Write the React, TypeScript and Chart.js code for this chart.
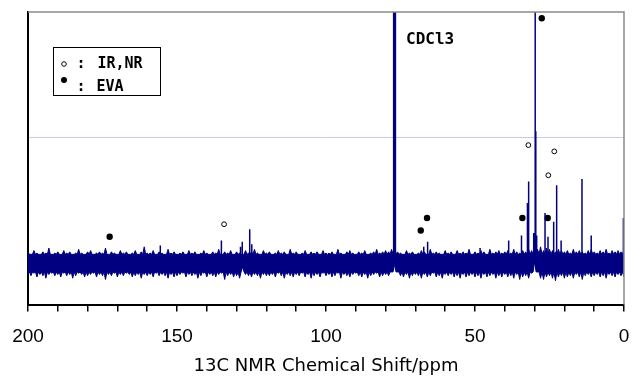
import React, { useEffect, useRef } from 'react';
import { Chart, registerables } from 'chart.js';

Chart.register(...registerables);

const NAVY = '#000080';

// chemical shift sample positions (ppm) of the noise spike tips
const noiseShifts = [
  200, 199, 198, 197, 196, 195, 194, 193, 192, 191,
  190, 189, 188, 187, 186, 185, 184, 183, 182, 181,
  180, 179, 178, 177, 176, 175, 174, 173, 172, 171,
  170, 169, 168, 167, 166, 165, 164, 163, 162, 161,
  160, 159, 158, 157, 156, 155, 154, 153, 152, 151,
  150, 149, 148, 147, 146, 145, 144, 143, 142, 141,
  140, 139, 138, 137, 136, 135, 134, 133, 132, 131,
  130, 129, 128, 127, 126, 125, 124, 123, 122, 121,
  120, 119, 118, 117, 116, 115, 114, 113, 112, 111,
  110, 109, 108, 107, 106, 105, 104, 103, 102, 101,
  100, 99, 98, 97, 96, 95, 94, 93, 92, 91,
  90, 89, 88, 87, 86, 85, 84, 83, 82, 81,
  80, 79, 78, 77, 76, 75, 74, 73, 72, 71,
  70, 69, 68, 67, 66, 65, 64, 63, 62, 61,
  60, 59, 58, 57, 56, 55, 54, 53, 52, 51,
  50, 49, 48, 47, 46, 45, 44, 43, 42, 41,
  40, 39, 38, 37, 36, 35, 34, 33, 32, 31,
  30, 29, 28, 27, 26, 25, 24, 23, 22, 21,
  20, 19, 18, 17, 16, 15, 14, 13, 12, 11,
  10, 9, 8, 7, 6, 5, 4, 3, 2, 1,
  0,
];

// upper spike tips of the noise band
const noiseUpper = [
  9, 7, 10, 8, 7, 9, 8, 12, 7, 8,
  9, 7, 10, 8, 9, 7, 8, 11, 8, 7,
  9, 10, 7, 8, 9, 8, 12, 7, 9, 8,
  7, 10, 8, 9, 7, 8, 10, 7, 9, 13,
  8, 8, 10, 7, 9, 8, 7, 11, 8, 9,
  7, 8, 9, 7, 10, 8, 9, 7, 8, 10,
  8, 7, 9, 8, 11, 7, 9, 8, 10, 7,
  9, 8, 7, 10, 8, 9, 11, 8, 7, 10,
  8, 9, 7, 8, 10, 8, 9, 7, 11, 8,
  9, 7, 8, 10, 7, 9, 8, 9, 7, 10,
  8, 8, 9, 7, 11, 8, 7, 9, 10, 8,
  7, 9, 8, 10, 7, 8, 9, 11, 8, 9,
  10, 9, 11, 10, 9, 8, 7, 10, 8, 9,
  7, 8, 10, 9, 7, 11, 8, 9, 8, 7,
  10, 8, 9, 7, 10, 8, 9, 8, 11, 7,
  9, 8, 10, 9, 7, 11, 8, 9, 10, 8,
  9, 10, 8, 11, 9, 8, 10, 9, 11, 10,
  12, 11, 13, 10, 12, 11, 10, 9, 11, 10,
  9, 10, 8, 11, 9, 10, 9, 8, 10, 11,
  9, 8, 10, 9, 11, 8, 10, 9, 10, 9,
  11,
];

// lower spike tips of the noise band
const noiseLower = [
  -9, -10, -8, -11, -9, -10, -12, -9, -8, -10,
  -9, -11, -8, -10, -9, -12, -10, -8, -9, -11,
  -10, -9, -8, -11, -9, -10, -13, -9, -10, -8,
  -11, -9, -10, -8, -9, -11, -10, -9, -12, -9,
  -10, -9, -11, -8, -10, -9, -10, -12, -9, -11,
  -10, -9, -8, -11, -9, -10, -9, -12, -10, -8,
  -11, -9, -10, -11, -9, -8, -13, -10, -9, -11,
  -10, -12, -3, -9, -10, -11, -9, -10, -12, -9,
  -10, -10, -9, -11, -8, -10, -12, -9, -10, -11,
  -9, -10, -8, -11, -9, -12, -10, -9, -11, -8,
  -10, -9, -11, -10, -8, -12, -9, -10, -11, -9,
  -8, -10, -11, -9, -12, -10, -9, -8, -11, -10,
  -9, -10, -7, -1, -7, -10, -11, -9, -12, -10,
  -9, -10, -12, -9, -11, -10, -8, -11, -10, -12,
  -9, -10, -9, -11, -10, -12, -9, -11, -10, -9,
  -11, -10, -12, -9, -11, -10, -9, -12, -10, -11,
  -9, -11, -10, -12, -9, -13, -11, -10, -12, -8,
  1, -7, -12, -13, -11, -10, -12, -14, -11, -10,
  -12, -11, -10, -12, -9, -11, -13, -10, -9, -11,
  -10, -9, -11, -10, -12, -9, -10, -11, -9, -10,
  -11,
];

// edge of the solid core of the noise band (between the spikes)
const noiseCore = 7;

// resolved resonances: shift (ppm) and intensity
const peakShifts = [
  155.6, 135.1, 128.7, 128.1, 125.6, 124.9, 77.3, 77.0, 76.7, 67.2,
  65.9, 48.3, 38.7, 34.4, 32.4, 32.0, 30.3, 29.8, 29.6, 29.3,
  26.5, 25.5, 23.6, 22.6, 21.1, 14.1, 11.0, 0.2,
];
const peakHeights = [
  14, 18, 13, 17, 27, 15, 260, 260, 260, 13,
  17, 12, 18, 22, 48, 65, 24, 260, 105, 22,
  40, 21, 33, 62, 18, 67, 22, 36,
];

// assignment markers
const irnrShifts = [134.2, 32.1, 23.4, 25.4];
const irnrLevels = [31, 94, 89, 70];
const evaShifts = [172.6, 68.2, 66.1, 34.1, 25.6, 27.6];
const evaLevels = [21, 26, 36, 36, 36, 195];

const xTickLabels = [200, 150, 100, 50, 0];

const decorPlugin = {
  id: 'decor',
  afterDraw(chart: any) {
    const { ctx, chartArea: a } = chart;
    ctx.save();
    // top and right frame
    ctx.strokeStyle = '#8a8a8a';
    ctx.lineWidth = 1.5;
    ctx.beginPath();
    ctx.moveTo(a.left, a.top);
    ctx.lineTo(a.right, a.top);
    ctx.lineTo(a.right, a.bottom);
    ctx.stroke();

    // legend box
    const bx = a.left + 25.5;
    const by = a.top + 35.5;
    ctx.strokeStyle = '#000';
    ctx.lineWidth = 1;
    ctx.strokeRect(bx, by, 107, 48);

    ctx.fillStyle = '#000';
    ctx.font = 'bold 15px "DejaVu Sans Mono", monospace';
    ctx.textBaseline = 'middle';
    // open marker
    ctx.beginPath();
    ctx.arc(bx + 10.5, by + 16.5, 2.3, 0, Math.PI * 2);
    ctx.fillStyle = '#fff';
    ctx.fill();
    ctx.strokeStyle = '#000';
    ctx.lineWidth = 1;
    ctx.stroke();
    // filled marker
    ctx.beginPath();
    ctx.arc(bx + 10.5, by + 32.5, 3, 0, Math.PI * 2);
    ctx.fillStyle = '#000';
    ctx.fill();

    ctx.textAlign = 'center';
    ctx.fillText(':', bx + 27.5, by + 17);
    ctx.fillText(':', bx + 27.5, by + 40);
    ctx.textAlign = 'left';
    ctx.fillText('IR,NR', bx + 44, by + 17);
    ctx.fillText('EVA', bx + 43, by + 40);

    // solvent label
    ctx.font = 'bold 16px "DejaVu Sans Mono", monospace';
    ctx.fillText('CDCl3', 406, a.top + 28);
    ctx.restore();
  },
};

function spikyEdge(tips: number[], core: number) {
  const pts: { x: number; y: number }[] = [];
  noiseShifts.forEach((x, i) => {
    pts.push({ x, y: tips[i] });
    if (i < noiseShifts.length - 1) {
      pts.push({ x: (x + noiseShifts[i + 1]) / 2, y: core });
    }
  });
  return pts;
}

export default function App() {
  const ref = useRef<HTMLCanvasElement | null>(null);

  useEffect(() => {
    if (!ref.current) return;
    const upper = spikyEdge(noiseUpper, noiseCore);
    const lower = spikyEdge(noiseLower, -noiseCore);
    const peaks = peakShifts.flatMap((x, i) => [
      { x, y: 0 },
      { x, y: peakHeights[i] },
      { x, y: null as any },
    ]);
    const irnr = irnrShifts.map((x, i) => ({ x, y: irnrLevels[i] }));
    const eva = evaShifts.map((x, i) => ({ x, y: evaLevels[i] }));

    const chart = new Chart(ref.current, {
      type: 'line',
      data: {
        datasets: [
          {
            data: upper,
            borderColor: NAVY,
            backgroundColor: NAVY,
            borderWidth: 1,
            pointRadius: 0,
            fill: '+1',
          },
          {
            data: lower,
            borderColor: NAVY,
            backgroundColor: NAVY,
            borderWidth: 1,
            pointRadius: 0,
            fill: false,
          },
          {
            data: peaks,
            borderColor: NAVY,
            borderWidth: 1.5,
            pointRadius: 0,
            fill: false,
            spanGaps: false,
          },
          {
            data: irnr,
            showLine: false,
            pointRadius: 2.4,
            pointBackgroundColor: '#fff',
            pointBorderColor: '#000',
            pointBorderWidth: 1,
          },
          {
            data: eva,
            showLine: false,
            pointRadius: 3.2,
            pointBackgroundColor: '#000',
            pointBorderColor: '#000',
            pointBorderWidth: 0,
          },
        ] as any,
      },
      options: {
        animation: false,
        responsive: false,
        events: [],
        layout: { padding: { left: 28, right: 13, top: 12, bottom: 0 } },
        plugins: {
          legend: { display: false },
          tooltip: { enabled: false },
        },
        scales: {
          x: {
            type: 'linear',
            reverse: true,
            min: 0,
            max: 200,
            z: 1,
            afterFit: (s: any) => {
              s.paddingLeft = 0;
              s.paddingRight = 0;
            },
            border: { display: true, color: '#000', width: 2 },
            grid: {
              drawOnChartArea: false,
              drawTicks: true,
              tickLength: 7,
              color: '#000',
              lineWidth: 1.5,
            },
            ticks: {
              stepSize: 10,
              autoSkip: false,
              maxRotation: 0,
              padding: 13.6,
              color: '#000',
              font: { family: '"Liberation Sans", Arial, sans-serif', size: 19 },
              callback: (v: any) => (xTickLabels.includes(Number(v)) ? String(v) : ''),
            },
            title: {
              display: true,
              text: '13C NMR Chemical Shift/ppm',
              color: '#000',
              font: { family: '"DejaVu Sans", sans-serif', size: 18, lineHeight: 0.8 },
              padding: { top: -2, bottom: 2 },
            },
          },
          y: {
            type: 'linear',
            min: -33,
            max: 200,
            z: 1,
            border: { display: true, color: '#000', width: 2 },
            grid: {
              drawTicks: false,
              lineWidth: 1,
              color: (c: any) => (c.tick && c.tick.value === 100 ? '#c6c6f7' : 'transparent'),
            },
            ticks: { display: false, stepSize: 100 },
          },
        },
      },
      plugins: [decorPlugin],
    });
    return () => chart.destroy();
  }, []);

  return (
    <div style={{ position: 'absolute', left: 0, top: 0, width: 637, height: 376, background: '#fff' }}>
      <canvas ref={ref} width={637} height={376} />
    </div>
  );
}
